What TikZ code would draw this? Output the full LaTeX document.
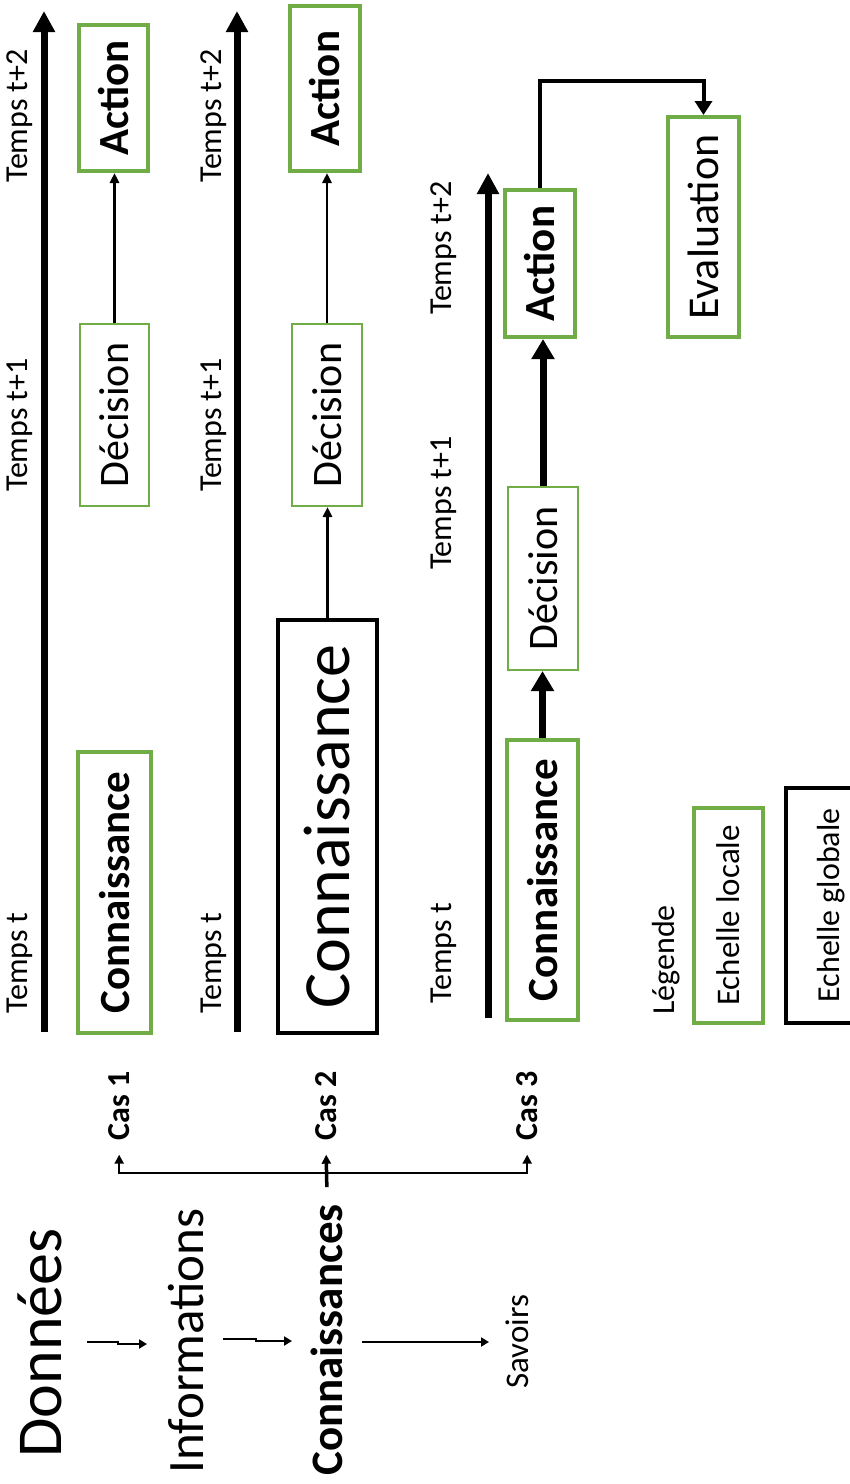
\documentclass[tikz,border=0pt]{standalone}
\usepackage{fontspec}
\usepackage{graphicx}
\setmainfont{Carlito}
\usetikzlibrary{arrows.meta}
\definecolor{grn}{HTML}{70AD47}
\newcommand\fsz[1]{\fontsize{#1}{#1}\selectfont}
\begin{document}
\begin{tikzpicture}[x=1pt,y=-1pt,
  lbl/.style={rotate=90,inner sep=0pt,anchor=south,font=\fsz{32}},
  gbox/.style={draw=grn,line width=4pt,inner sep=0pt},
  gthin/.style={draw=grn,line width=2pt,inner sep=0pt},
  kbox/.style={draw=black,line width=3.5pt,inner sep=0pt},
  axis/.style={line width=7pt,-{Triangle[width=21pt,length=21pt]}},
  thinarr/.style={line width=2.5pt,-{Triangle[width=9pt,length=10pt]}},
  thickarr/.style={line width=7pt,-{Triangle[width=22pt,length=20pt]}},
  elbow/.style={line width=4pt,-{Triangle[width=17pt,length=14pt]}},
  smallarr/.style={line width=2.8pt,-{Triangle[width=9pt,length=8pt]}},
  branch/.style={line width=2.5pt,-{Triangle[width=9pt,length=9pt]}},
]
\fill[white] (0,0) rectangle (850,1484);
\useasboundingbox (0,0) rectangle (850,1484);

% ---------- Case 1 ----------
\coordinate (ax1s) at (44,1032);
\coordinate (ax1e) at (44,11);
\draw[axis] (ax1s) -- (ax1e);
\node[lbl] (t1a) at (33,963) {Temps t};
\node[lbl] (t1b) at (33,425) {Temps t+1};
\node[lbl] (t1c) at (33,116) {Temps t+2};
\node[gbox,minimum width=69pt,minimum height=146pt] (a1) at (113.5,98) {\rotatebox{90}{\fsz{43}\bfseries Action}};
\node[gthin,minimum width=69pt,minimum height=182pt] (d1) at (114.5,415) {\rotatebox{90}{\fsz{42}Décision}};
\node[gbox,minimum width=73pt,minimum height=281pt] (c1) at (114.5,892.5) {\rotatebox{90}{\fsz{43}\bfseries Connaissance}};
\draw[thinarr] (d1.north) -- (d1.north |- a1.south);

% ---------- Case 2 ----------
\coordinate (ax2s) at (237,1032);
\coordinate (ax2e) at (237,11);
\draw[axis] (ax2s) -- (ax2e);
\node[lbl] (t2a) at (227,963) {Temps t};
\node[lbl] (t2b) at (227,425) {Temps t+1};
\node[lbl] (t2c) at (227,116) {Temps t+2};
\node[gbox,minimum width=70pt,minimum height=165pt] (a2) at (325,88.5) {\rotatebox{90}{\fsz{43}\bfseries Action}};
\node[gthin,minimum width=70pt,minimum height=182pt] (d2) at (327,415) {\rotatebox{90}{\fsz{42}Décision}};
\node[kbox,minimum width=99pt,minimum height=413pt] (c2) at (327.5,826.5) {\rotatebox{90}{\fsz{66}Connaissance}};
\draw[thinarr] (c2.north) -- (c2.north |- d2.south);
\draw[thinarr] (d2.north) -- (d2.north |- a2.south);

% ---------- Case 3 ----------
\coordinate (ax3s) at (488,1018);
\coordinate (ax3e) at (488,173);
\draw[axis] (ax3s) -- (ax3e);
\node[lbl] (t3a) at (457,953) {Temps t};
\node[lbl] (t3b) at (457,503) {Temps t+1};
\node[lbl] (t3c) at (457,248) {Temps t+2};
\node[gbox,minimum width=70pt,minimum height=147pt] (a3) at (540,263.5) {\rotatebox{90}{\fsz{43}\bfseries Action}};
\node[gthin,minimum width=70pt,minimum height=183pt] (d3) at (543,578.5) {\rotatebox{90}{\fsz{42}Décision}};
\node[gbox,minimum width=71pt,minimum height=280pt] (c3) at (542.5,880) {\rotatebox{90}{\fsz{43}\bfseries Connaissance}};
\node[gbox,minimum width=71pt,minimum height=220pt] (ev) at (703.5,227) {\rotatebox{90}{\fsz{44}Evaluation}};
\draw[thickarr] (c3.north) -- (c3.north |- d3.south);
\draw[thickarr] (d3.north) -- (d3.north |- a3.south);
\draw[elbow] (a3.north) -- ++(0,-107) -| (ev.north);

% ---------- Legend ----------
\node[lbl] (leg) at (680,960) {Légende};
\node[gbox,minimum width=69pt,minimum height=215pt] (loc) at (728.5,915.5) {\rotatebox{90}{\fsz{33}Echelle locale}};
\begin{scope}
\clip (0,0) rectangle (850,1484);
\node[kbox,minimum width=91pt,minimum height=235pt] (glob) at (831.5,905.5) {\rotatebox{90}{\fsz{32}Echelle globale}};
\end{scope}

% ---------- Bottom hierarchy ----------
\node[rotate=90,inner sep=0pt,anchor=south,font=\fsz{64}] (don) at (62,1343) {Données};
\node[rotate=90,inner sep=0pt,anchor=south,font=\fsz{51}] (inf) at (204,1341) {Informations};
\node[rotate=90,inner sep=0pt,anchor=south,font=\fsz{45}\bfseries] (cns) at (343,1340) {Connaissances};
\node[rotate=90,inner sep=0pt,anchor=south,font=\fsz{33}] (sav) at (529,1342) {Savoirs};
\node[rotate=90,inner sep=0pt,anchor=south,font=\fsz{32}\bfseries] (cas1) at (130,1106) {Cas 1};
\node[rotate=90,inner sep=0pt,anchor=south,font=\fsz{32}\bfseries] (cas2) at (337,1106) {Cas 2};
\node[rotate=90,inner sep=0pt,anchor=south,font=\fsz{32}\bfseries] (cas3) at (538,1106) {Cas 3};

\draw[smallarr] ([xshift=25pt,yshift=1pt]don.south) -| ++(31,2) -- ++(29,0);
\draw[smallarr] ([xshift=19pt,yshift=2pt]inf.south) -| ++(33,2) -- ++(36,0);
\draw[smallarr] ([xshift=19pt,yshift=-2pt]cns.south) -- ++(127,0);

\coordinate (hub) at (327,1173);
\draw[branch] (hub) -| ([yshift=-14pt]cas1.west);
\draw[branch] (hub) -| ([yshift=-14pt]cas3.west);
\draw[line width=3.5pt,-{Triangle[width=9pt,length=9pt]}] ([yshift=17pt]cns.east) -- ([yshift=-14pt]cas2.west);
\end{tikzpicture}
\end{document}
